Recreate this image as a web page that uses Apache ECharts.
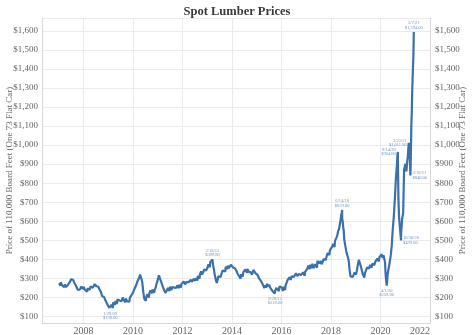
<!DOCTYPE html>
<html><head><meta charset="utf-8">
<script src="https://cdn.jsdelivr.net/npm/echarts@6/dist/echarts.min.js"></script>
<style>html,body{margin:0;padding:0;background:#fff}#c{width:474px;height:335px}</style>
</head><body><div id="c"></div>
<script>
// ---- data ----
const weekDays = ['01-04','01-11','01-18','01-25','02-01','02-08','02-15','02-22','03-01','03-08','03-15','03-22',
                  '04-01','04-08','04-15','04-22','05-01','05-08','05-15','05-22','06-01','06-08','06-15','06-22',
                  '07-01','07-08','07-15','07-22','08-01','08-08','08-15','08-22','09-01','09-08','09-15','09-22',
                  '10-01','10-08','10-15','10-22','11-01','11-08','11-15','11-22','12-01','12-08','12-15','12-22'];
const years = [2007,2008,2009,2010,2011,2012,2013,2014,2015,2016,2017,2018,2019,2020,2021];
const p2007 = [275,266,270,262,280,271,265,258,272,263,260,254,268,259,255,247,260,251,266,258,270,279,288,281,296,288,306,298,292,283,279,271,273,264,262,252,248,240,242,233,250,242,246,238,258,249,252,244];
const p2008 = [256,246,241,236,250,240,238,230,247,238,252,244,241,233,258,249,264,256,251,243,260,252,270,262,268,259,258,250,265,256,251,243,243,234,228,218,208,199,218,209,202,192,188,179,180,171,170,160];
const p2009 = [158,150,146,141,154,147,162,153,152,145,174,166,170,161,182,174,175,166,190,181,198,189,184,176,192,183,180,171,200,191,188,179,183,174,194,185,188,179,178,170,186,178,198,190,207,198,217,209];
const p2010 = [228,219,242,234,252,244,264,256,278,269,292,284,303,294,320,312,328,318,284,262,228,212,194,186,188,182,202,194,218,208,206,199,225,216,237,229,230,222,242,234,232,224,240,232,252,246,274,266];
const p2011 = [296,304,316,309,300,292,287,278,272,263,257,249,242,234,232,224,228,221,237,229,250,242,242,234,257,248,247,239,254,246,264,256,252,244,260,252,250,242,264,256,257,249,267,259,260,252,270,262];
const p2012 = [272,264,284,276,277,269,270,262,282,274,292,284,280,272,287,279,294,286,282,274,290,282,298,290,287,279,302,294,297,289,314,306,307,299,322,314,337,329,320,312,332,324,347,339,354,346,342,334];
const p2013 = [357,349,374,366,367,359,387,379,392,384,394,386,362,350,332,318,302,290,282,276,292,284,312,304,320,312,307,299,327,319,342,334,352,344,344,336,362,354,357,349,367,359,354,346,364,356,372,364];
const p2014 = [367,359,360,352,364,356,352,344,347,339,334,326,324,316,312,304,307,299,322,314,317,309,332,324,342,334,347,339,337,329,350,342,342,334,332,324,340,332,327,319,332,324,344,336,337,329,330,322];
const p2015 = [327,319,317,309,302,294,312,304,292,284,282,274,267,259,257,249,264,256,252,244,272,264,264,256,267,259,257,249,247,239,242,234,234,226,227,221,237,229,250,242,252,244,242,234,257,249,264,256];
const p2016 = [252,244,242,234,257,249,247,239,264,256,277,269,292,284,300,292,307,299,292,284,312,304,320,312,307,299,314,306,327,319,320,312,312,304,324,316,332,324,317,309,324,316,332,324,322,314,334,326];
const p2017 = [337,329,352,344,367,359,357,349,372,364,362,354,377,369,354,346,362,354,374,366,364,356,392,384,397,389,380,372,392,384,374,366,387,379,402,394,412,404,397,389,422,414,434,426,430,422,447,439];
const p2018 = [452,444,467,459,482,474,472,464,497,489,507,499,522,514,547,539,562,554,592,584,632,645,615,598,565,548,505,490,468,455,442,430,422,410,398,385,345,330,312,305,322,314,307,299,320,312,332,324];
const p2019 = [320,312,342,334,372,364,397,389,382,374,367,359,342,334,322,314,312,304,327,319,342,334,357,349,364,356,352,344,372,364,364,356,377,369,382,374,370,362,387,379,392,384,404,396,397,389,412,404];
const p2020 = [417,409,427,419,407,399,422,414,397,385,330,300,262,282,322,314,332,324,382,374,422,414,472,464,562,554,622,614,722,714,822,814,902,950,900,720,622,614,562,554,540,568,612,604,642,760,872,864];
const p2021 = [902,894,862,854,922,940,980,1011.8,992,950,870,900,1102,1180,1300,1380,1470];
const yearPrices = [p2007,p2008,p2009,p2010,p2011,p2012,p2013,p2014,p2015,p2016,p2017,p2018,p2019,p2020,p2021];

const annDates  = ['2009-01-29','2013-03-18','2015-09-28','2018-06-14','2020-04-01','2020-09-14','2020-10-30','2021-02-22','2021-03-18','2021-05-07'];
const annValues = [138, 399.8, 218, 659, 259.8, 964, 499.8, 1011.8, 840, 1594];

const titleText = 'Spot Lumber Prices';
const axisTitle = 'Price of 110,000 Board Feet (One 73 Flat Car)';
const xMin = 2006.32, xMax = 2022;
const yMin = 66, yMax = 1667;

// ---- helpers ----
function decYear(s){
  const [y,m,d] = s.split('-').map(Number);
  const start = Date.UTC(y,0,1), end = Date.UTC(y+1,0,1);
  return y + (Date.UTC(y,m-1,d) - start) / (end - start);
}
function shortDate(s){
  const [y,m,d] = s.split('-').map(Number);
  return m + '/' + d + '/' + String(y).slice(2);
}
function money(v){
  return '$' + v.toLocaleString('en-US',{minimumFractionDigits:2, maximumFractionDigits:2});
}

const pts = [];
years.forEach((yr, k) => {
  yearPrices[k].forEach((v, i) => pts.push([decYear(yr + '-' + weekDays[i]), v]));
});
annDates.forEach((d, i) => pts.push([decYear(d), annValues[i]]));
pts.sort((a, b) => a[0] - b[0]);

const annPlace = ['bottom','top','bottom','top','bottom','left','right','left','right','top'];
const annData = annDates.map((d, i) => ({
  value: [decYear(d), annValues[i]],
  label: { position: annPlace[i], formatter: shortDate(d) + '\n' + money(annValues[i]) }
}));

const serif = '"Liberation Serif", "DejaVu Serif", serif';
const gridColor = '#ebebeb';
const txt = '#666';

const chart = echarts.init(document.getElementById('c'), null, {renderer:'canvas'});
chart.setOption({
  animation: false,
  backgroundColor: '#fff',
  title: { text: titleText, left: 'center', top: 0,
    textStyle: { fontFamily: serif, fontSize: 12.5, fontWeight: 'bold', color: '#3a3a3a' } },
  grid: { left: 42, right: 44, top: 18, bottom: 12, containLabel: false, outerBoundsMode: 'none' },
  xAxis: {
    type: 'value', min: xMin, max: xMax, splitNumber: 8,
    axisLine: { show: true, lineStyle: { color: '#d9d9d9', width: 1 } },
    axisTick: { show: false },
    splitLine: { show: true, lineStyle: { color: gridColor, width: 1 } },
    axisLabel: { showMinLabel: false, showMaxLabel: true, alignMaxLabel: 'right', margin: 3,
      color: txt, fontFamily: serif, fontSize: 10, formatter: v => String(Math.round(v)) }
  },
  yAxis: [
    { type: 'value', position: 'left', min: yMin, max: yMax, splitNumber: 16,
      name: axisTitle, nameLocation: 'middle', nameGap: 28, nameRotate: 90, nameMoveOverlap: false,
      nameTextStyle: { fontFamily: serif, fontSize: 9, color: txt },
      axisLine: { show: true, lineStyle: { color: '#d9d9d9' } },
      axisTick: { show: false },
      splitLine: { show: true, lineStyle: { color: gridColor, width: 1 } },
      axisLabel: { showMinLabel: false, showMaxLabel: false, margin: 4, color: txt, fontFamily: serif, fontSize: 9,
        formatter: v => '$' + v.toLocaleString('en-US') } },
    { type: 'value', position: 'right', min: yMin, max: yMax, splitNumber: 16,
      name: axisTitle, nameLocation: 'middle', nameGap: 28, nameRotate: 90, nameMoveOverlap: false,
      nameTextStyle: { fontFamily: serif, fontSize: 9, color: txt },
      axisLine: { show: true, lineStyle: { color: '#d9d9d9' } },
      axisTick: { show: false },
      splitLine: { show: false },
      axisLabel: { showMinLabel: false, showMaxLabel: false, margin: 5, color: txt, fontFamily: serif, fontSize: 9,
        formatter: v => '$' + v.toLocaleString('en-US') } }
  ],
  series: [
    { type: 'line', data: pts, showSymbol: false, symbol: 'none',
      lineStyle: { color: '#3a71ab', width: 2.2 }, z: 2 },
    { type: 'scatter', data: annData, symbolSize: 0.1, itemStyle: { color: 'rgba(0,0,0,0)' },
      label: { show: true, color: '#4a7bb0', fontFamily: serif, fontSize: 4.5, lineHeight: 4.5, distance: 2 }, z: 3 }
  ]
});
</script></body></html>
